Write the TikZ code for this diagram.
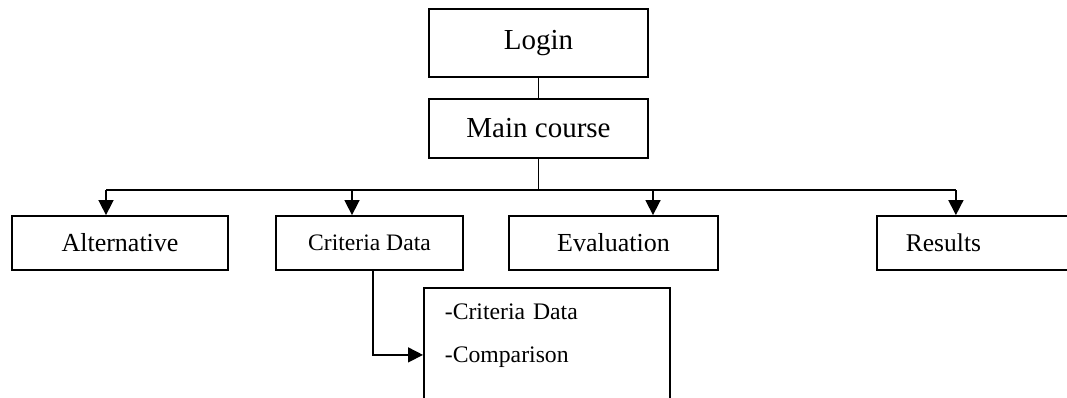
\documentclass[tikz,border=0pt]{standalone}
\usepackage{fontspec}
\setmainfont{Liberation Serif}
\usetikzlibrary{arrows.meta,positioning,calc}

\begin{document}
\begin{tikzpicture}[x=1pt,y=-1pt,
    box/.style={draw, line width=1.8pt, rectangle, inner sep=0pt, minimum height=54pt},
    link/.style={line width=1.6pt},
    down/.style={link, -{Triangle[length=15pt,width=15pt]}}]
    \useasboundingbox (0,0) rectangle (1067,398);

    \node[box, minimum width=219pt, minimum height=68pt, font=\fontsize{29}{34}\selectfont] (login) at (538.5,43) {Login};
    \node[box, minimum width=219pt, minimum height=59pt, font=\fontsize{29}{34}\selectfont] (main) at (538.5,128.5) {Main course};

    \node[box, minimum width=216pt, font=\fontsize{26}{31}\selectfont] (alt) at (120,243) {Alternative};
    \node[box, minimum width=187pt, font=\fontsize{23.6}{28}\selectfont] (crit) at (369.5,243) {Criteria Data};
    \node[box, minimum width=209pt, font=\fontsize{26}{31}\selectfont] (eval) at (613.5,243) {Evaluation};
    \node[box, anchor=west, text width=141pt, inner xsep=29pt, align=left, font=\fontsize{25.5}{30}\selectfont] (res) at (876,243) {Results};

    \node[box, anchor=north west, minimum width=246pt, minimum height=134pt, text width=204pt, inner xsep=21pt, align=left, font=\fontsize{23.7}{43}\selectfont] (detail) at (423,287) {-Criteria Data\\-Comparison\\\mbox{}};

    \coordinate (bus) at (538.5,190);
    \draw[link] (login) -- (main);
    \draw[link] (main.south) -- (bus);
    \foreach \n/\s in {alt/-14, crit/-17.5, eval/39.5, res/-20.5} {
        \coordinate (\n-in) at ([xshift=\s pt]\n.north);
        \draw[down] (\n-in |- bus) -- (\n-in);
    }
    \draw[link] (alt-in |- bus) -- (res-in |- bus);

    \draw[down] ([xshift=3.5pt]crit.south) |- (detail.west);
\end{tikzpicture}
\end{document}
